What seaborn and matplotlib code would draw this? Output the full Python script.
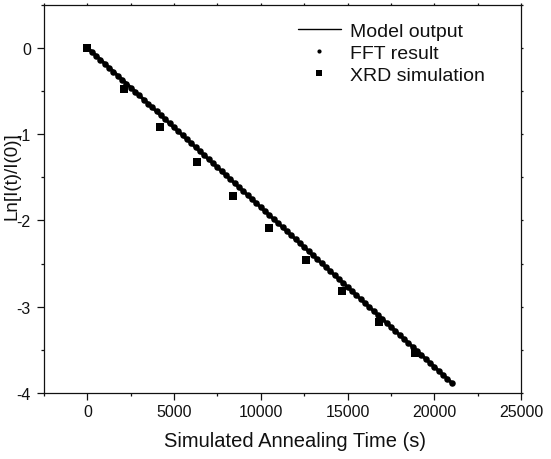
import matplotlib
matplotlib.use("Agg")
import matplotlib.pyplot as plt
import seaborn as sns
import pandas as pd
from matplotlib.lines import Line2D
from matplotlib.ticker import MultipleLocator

# ---- data ----
model_time = [0, 21000]
model_lnI = [0.0, -3.881]

fft_time = [0, 250, 500, 750, 1000, 1250, 1500, 1750, 2000, 2250, 2500, 2750,
            3000, 3250, 3500, 3750, 4000, 4250, 4500, 4750, 5000, 5250, 5500, 5750,
            6000, 6250, 6500, 6750, 7000, 7250, 7500, 7750, 8000, 8250, 8500, 8750,
            9000, 9250, 9500, 9750, 10000, 10250, 10500, 10750, 11000, 11250, 11500,
            11750, 12000, 12250, 12500, 12750, 13000, 13250, 13500, 13750, 14000,
            14250, 14500, 14750, 15000, 15250, 15500, 15750, 16000, 16250, 16500,
            16750, 17000, 17250, 17500, 17750, 18000, 18250, 18500, 18750, 19000,
            19250, 19500, 19750, 20000, 20250, 20500, 20750, 21000]
fft_lnI = [0.000, -0.046, -0.092, -0.139, -0.185, -0.231, -0.277, -0.323, -0.370,
           -0.416, -0.462, -0.508, -0.554, -0.601, -0.647, -0.693, -0.739, -0.785,
           -0.832, -0.878, -0.924, -0.970, -1.016, -1.063, -1.109, -1.155, -1.201,
           -1.247, -1.294, -1.340, -1.386, -1.432, -1.478, -1.525, -1.571, -1.617,
           -1.663, -1.709, -1.756, -1.802, -1.848, -1.894, -1.940, -1.987, -2.033,
           -2.079, -2.125, -2.172, -2.218, -2.264, -2.310, -2.356, -2.403, -2.449,
           -2.495, -2.541, -2.587, -2.634, -2.680, -2.726, -2.772, -2.818, -2.865,
           -2.911, -2.957, -3.003, -3.049, -3.096, -3.142, -3.188, -3.234, -3.280,
           -3.327, -3.373, -3.419, -3.465, -3.511, -3.558, -3.604, -3.650, -3.696,
           -3.742, -3.789, -3.835, -3.881]

xrd_time = [0, 2100, 4200, 6300, 8400, 10500, 12600, 14700, 16800, 18900]
xrd_lnI = [0.0, -0.477, -0.915, -1.322, -1.717, -2.093, -2.462, -2.822, -3.178, -3.531]

series_labels = ["Model output", "FFT result", "XRD simulation"]
x_label = "Simulated Annealing Time (s)"
y_label = "Ln[I(t)/I(0)]"

# ---- plotting ----
sns.set_theme(style="ticks")
plt.rcParams["font.family"] = ["Liberation Sans", "DejaVu Sans"]
plt.rcParams["axes.unicode_minus"] = False

fig = plt.figure(figsize=(5.51, 4.60), dpi=100)
ax = fig.add_axes([44 / 551, 1 - 394 / 460, (521 - 44) / 551, (394 - 5.5) / 460])

df_model = pd.DataFrame({"t": model_time, "v": model_lnI})
df_fft = pd.DataFrame({"t": fft_time, "v": fft_lnI})
df_xrd = pd.DataFrame({"t": xrd_time, "v": xrd_lnI})

sns.scatterplot(data=df_xrd, x="t", y="v", marker="s", s=28, color="black",
                linewidth=0, ax=ax, zorder=2)
sns.scatterplot(data=df_fft, x="t", y="v", marker="o", s=22, color="black",
                linewidth=0, ax=ax, zorder=3)
sns.lineplot(data=df_model, x="t", y="v", color="black", linewidth=2.4, ax=ax,
             zorder=4)

ax.set_xlim(-2500, 25000)
ax.set_ylim(-4, 0.5)
ax.xaxis.set_major_locator(MultipleLocator(5000))
ax.xaxis.set_minor_locator(MultipleLocator(2500))
ax.yaxis.set_major_locator(MultipleLocator(1))
ax.yaxis.set_minor_locator(MultipleLocator(0.5))

for side in ["left", "bottom", "top", "right"]:
    ax.spines[side].set_visible(True)
    ax.spines[side].set_linewidth(0.9)
    ax.spines[side].set_color("#111111")

ax.tick_params(axis="both", which="major", direction="out", length=5, width=0.9,
               color="#111111", labelsize=11.5, labelcolor="#111111")
ax.tick_params(axis="both", which="minor", direction="out", length=2.5, width=0.9,
               color="#111111")
ax.tick_params(axis="x", which="major", pad=3)
ax.tick_params(axis="y", which="major", pad=4.5)
ax.tick_params(top=True, right=True, which="both")
# keep top/right ticks short, as in the reference
for t in ax.xaxis.get_major_ticks() + ax.xaxis.get_minor_ticks():
    t.tick2line.set_markersize(1.5)
for t in ax.yaxis.get_major_ticks() + ax.yaxis.get_minor_ticks():
    t.tick2line.set_markersize(1.5)

ax.set_xlabel(x_label, fontsize=14.5, color="#111111")
ax.set_ylabel(y_label, fontsize=13.5, color="#111111")
ax.xaxis.set_label_coords(0.527, -0.097)
ax.yaxis.set_label_coords(-0.050, 0.56)

handles = [
    Line2D([], [], color="black", linewidth=1.0),
    Line2D([], [], color="black", marker="o", linestyle="none", markersize=3.0,
           markeredgewidth=0),
    Line2D([], [], color="black", marker="s", linestyle="none", markersize=4.0,
           markeredgewidth=0),
]
leg = ax.legend(handles, series_labels, loc="upper left",
                bbox_to_anchor=(298 / 551, 1 - 23 / 460),
                bbox_transform=fig.transFigure, frameon=False, fontsize=14,
                handlelength=2.2, handletextpad=0.5, labelspacing=0.24,
                borderpad=0, borderaxespad=0)
for txt in leg.get_texts():
    txt.set_color("#111111")

fig.savefig("out.png", dpi=100, facecolor="white")
